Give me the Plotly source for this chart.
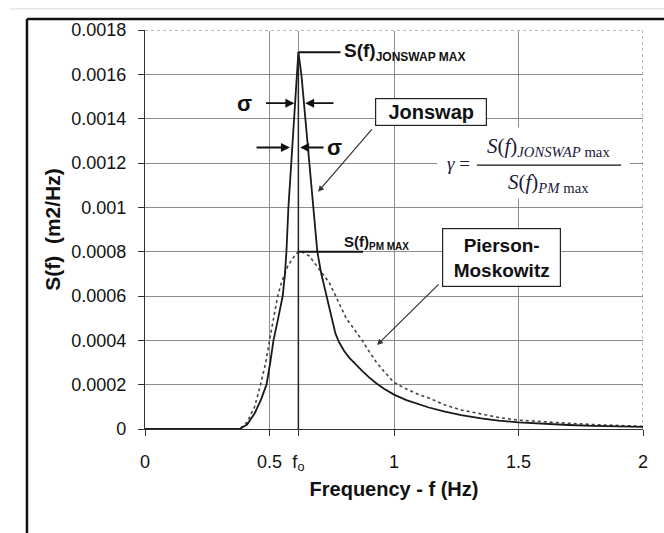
import plotly.graph_objects as go

# ---- data ----
freq_jonswap = [0.0, 0.38, 0.41, 0.44, 0.465, 0.488, 0.503, 0.516, 0.535, 0.553, 0.562, 0.568, 0.576,
                0.588, 0.600, 0.612, 0.616, 0.628, 0.644, 0.660, 0.674, 0.692, 0.708, 0.728, 0.748,
                0.765, 0.78, 0.80, 0.82, 0.85, 0.872, 0.90, 0.93, 0.96, 1.0, 1.05, 1.10, 1.14, 1.20,
                1.27, 1.35, 1.42, 1.5, 1.6, 1.7, 1.8, 1.9, 2.0]
s_jonswap = [0.0, 0.0, 0.00002, 0.00007, 0.00013, 0.0002, 0.0003, 0.0004, 0.0005, 0.0006, 0.0007, 0.0008, 0.001,
             0.0012, 0.0014, 0.0016, 0.0017, 0.0016, 0.0014, 0.0012, 0.001, 0.0008, 0.0007, 0.0006, 0.0005,
             0.00043, 0.00039, 0.000352, 0.000322, 0.000285, 0.000262, 0.000233, 0.000205, 0.000182, 0.000155,
             0.00013, 0.00011, 0.000097, 0.00008, 0.000063, 0.000048, 0.000038, 0.00003, 0.000023, 0.000018,
             0.000014, 0.000012, 0.00001]

freq_pm = [0.0, 0.38, 0.41, 0.44, 0.464, 0.485, 0.50, 0.518, 0.533, 0.548, 0.56, 0.575, 0.588, 0.60, 0.616,
           0.63, 0.645, 0.66, 0.68, 0.70, 0.72, 0.74, 0.77, 0.808, 0.84, 0.872, 0.90, 0.93, 0.96, 1.0, 1.05,
           1.10, 1.14, 1.20, 1.27, 1.35, 1.42, 1.5, 1.6, 1.7, 1.8, 1.9, 2.0]
s_pm = [0.0, 0.0, 0.00003, 0.0001, 0.0002, 0.0003, 0.0004, 0.0005, 0.0006, 0.00066, 0.00070, 0.00074, 0.00076,
        0.00078, 0.0008, 0.0008, 0.00079, 0.00078, 0.00075, 0.00072, 0.00069, 0.00066, 0.00059, 0.0005,
        0.00045, 0.0004, 0.00035, 0.0003, 0.00026, 0.00021, 0.00018, 0.000155, 0.00014, 0.00011, 0.000086,
        0.000068, 0.000052, 0.00004, 0.000032, 0.000026, 0.00002, 0.000016, 0.000012]

f_peak = 0.616
jonswap_max = 0.0017
pm_max = 0.0008

x_tickvals = [0, 0.5, f_peak, 1, 1.5, 2]
x_ticktext = ["0", "0.5", "f<sub>o</sub>", "1", "1.5", "2"]
y_tickvals = [0, 0.0002, 0.0004, 0.0006, 0.0008, 0.001, 0.0012, 0.0014, 0.0016, 0.0018]
y_ticktext = ["0", "0.0002", "0.0004", "0.0006", "0.0008", "0.001", "0.0012", "0.0014", "0.0016", "0.0018"]

FONT = "Liberation Sans, Arial, sans-serif"
SERIF = "Liberation Serif, Times New Roman, serif"
GRID = "#8c8c8c"

fig = go.Figure()
fig.add_trace(go.Scatter(x=freq_pm, y=s_pm, mode="lines", name="Pierson-Moskowitz",
                         line=dict(color="#444", width=1.6, dash="dot"), hoverinfo="skip"))
fig.add_trace(go.Scatter(x=freq_jonswap, y=s_jonswap, mode="lines", name="Jonswap",
                         line=dict(color="#1a1a1a", width=1.8), hoverinfo="skip"))

shapes = []
shapes.append(dict(type="line", xref="x", yref="y", x0=0, x1=2, y0=0.0018, y1=0.0018,
                   line=dict(color="white", width=2), layer="between"))
shapes.append(dict(type="line", xref="x", yref="y", x0=0, x1=2, y0=0.0018, y1=0.0018,
                   line=dict(color="#777", width=1, dash="dot"), layer="between"))
shapes.append(dict(type="line", xref="x", yref="y", x0=2, x1=2, y0=0, y1=0.0018,
                   line=dict(color="#777", width=1, dash="dot"), layer="between"))
shapes.append(dict(type="rect", xref="x", yref="y", x0=1.173, x1=1.948, y0=0.00104, y1=0.00136,
                   fillcolor="white", line=dict(width=0), layer="between"))
shapes.append(dict(type="line", xref="x", yref="y", x0=f_peak, x1=f_peak, y0=0, y1=jonswap_max,
                   line=dict(color="#222", width=1.5), layer="above"))
shapes.append(dict(type="line", xref="x", yref="y", x0=f_peak, x1=0.785, y0=jonswap_max, y1=jonswap_max,
                   line=dict(color="#111", width=2), layer="above"))
shapes.append(dict(type="line", xref="x", yref="y", x0=f_peak, x1=0.876, y0=pm_max, y1=pm_max,
                   line=dict(color="#111", width=2), layer="above"))
shapes.append(dict(type="line", xref="x", yref="y", x0=1.333, x1=1.912, y0=0.00119, y1=0.00119,
                   line=dict(color="#111", width=1.3), layer="above"))
shapes.append(dict(type="line", xref="paper", yref="paper", x0=-0.272, x1=1.05, y0=1.053, y1=1.053,
                   line=dict(color="#dddddd", width=1)))
shapes.append(dict(type="line", xref="paper", yref="paper", x0=-0.237, x1=1.05, y0=1.0276, y1=1.0276,
                   line=dict(color="#111", width=2.5)))
shapes.append(dict(type="line", xref="paper", yref="paper", x0=-0.237, x1=-0.237, y0=1.0276, y1=-0.27,
                   line=dict(color="#111", width=2.5)))

ann = []
ann.append(dict(x=0.79, y=jonswap_max, xref="x", yref="y", xanchor="left", yanchor="middle", showarrow=False,
                text="<b>S(f)<sub><span style='font-size:12px'>JONSWAP MAX</span></sub></b>",
                font=dict(family=FONT, size=19, color="#111")))
ann.append(dict(x=0.79, y=0.00084, xref="x", yref="y", xanchor="left", yanchor="middle", showarrow=False,
                text="<b>S(f)<sub><span style='font-size:10px'>PM MAX</span></sub></b>",
                font=dict(family=FONT, size=15, color="#111")))
ann.append(dict(x=0.40, y=0.00147, xref="x", yref="y", showarrow=False, text="<b>σ</b>",
                font=dict(family=FONT, size=22, color="#111")))
ann.append(dict(x=0.600, y=0.00147, ax=0.48, ay=0.00147, xref="x", yref="y", axref="x", ayref="y",
                text="", showarrow=True, arrowhead=2, arrowsize=1, arrowwidth=1.8, arrowcolor="#111"))
ann.append(dict(x=0.643, y=0.00147, ax=0.763, ay=0.00147, xref="x", yref="y", axref="x", ayref="y",
                text="", showarrow=True, arrowhead=2, arrowsize=1, arrowwidth=1.8, arrowcolor="#111"))
ann.append(dict(x=0.582, y=0.00127, ax=0.442, ay=0.00127, xref="x", yref="y", axref="x", ayref="y",
                text="", showarrow=True, arrowhead=2, arrowsize=1, arrowwidth=1.8, arrowcolor="#111"))
ann.append(dict(x=0.623, y=0.00127, ax=0.723, ay=0.00127, xref="x", yref="y", axref="x", ayref="y",
                text="", showarrow=True, arrowhead=2, arrowsize=1, arrowwidth=1.8, arrowcolor="#111"))
ann.append(dict(x=0.76, y=0.00127, xref="x", yref="y", showarrow=False, text="<b>σ</b>",
                font=dict(family=FONT, size=22, color="#111")))
ann.append(dict(x=1.149, y=0.00143, xref="x", yref="y", showarrow=False, text="<b>Jonswap</b>",
                font=dict(family=FONT, size=20, color="#111"), bgcolor="white", bordercolor="#222",
                borderwidth=1.2, width=108, height=24))
ann.append(dict(x=0.695, y=0.00107, ax=0.916, ay=0.001358, xref="x", yref="y", axref="x", ayref="y",
                text="", showarrow=True, arrowhead=2, arrowsize=1, arrowwidth=1.2, arrowcolor="#333"))
ann.append(dict(x=1.43, y=0.000774, xref="x", yref="y", showarrow=False, text="<b>Pierson-<br>Moskowitz</b>",
                font=dict(family=FONT, size=19, color="#111"), bgcolor="white", bordercolor="#222",
                borderwidth=1.2, width=115, height=55))
ann.append(dict(x=0.932, y=0.000379, ax=1.185, ay=0.000659, xref="x", yref="y", axref="x", ayref="y",
                text="", showarrow=True, arrowhead=2, arrowsize=1, arrowwidth=1.2, arrowcolor="#333"))
ann.append(dict(x=1.26, y=0.0012, xref="x", yref="y", showarrow=False, text="<i>γ</i> =",
                font=dict(family=SERIF, size=19, color="#1a1a3a")))
ann.append(dict(x=1.62, y=0.00127, xref="x", yref="y", showarrow=False,
                text="<i>S</i>(<i>f</i>)<sub><i>JONSWAP</i> max</sub>",
                font=dict(family=SERIF, size=21, color="#1a1a3a")))
ann.append(dict(x=1.62, y=0.00111, xref="x", yref="y", showarrow=False,
                text="<i>S</i>(<i>f</i>)<sub><i>PM</i> max</sub>",
                font=dict(family=SERIF, size=21, color="#1a1a3a")))

fig.update_layout(
    width=664, height=533,
    margin=dict(l=145, r=21, t=30, b=104),
    paper_bgcolor="white", plot_bgcolor="white",
    showlegend=False,
    shapes=shapes, annotations=ann,
    font=dict(family=FONT, color="#111"),
    xaxis=dict(range=[0, 2], tickvals=x_tickvals, ticktext=x_ticktext, showgrid=True, gridcolor=GRID,
               gridwidth=1, zeroline=False, showline=True, linecolor="#333", linewidth=1.2,
               ticks="outside", ticklen=6, tickcolor="#333", ticklabelstandoff=10,
               tickfont=dict(family=FONT, size=18, color="#111"),
               title=dict(text="<b>Frequency - f (Hz)</b>", font=dict(family=FONT, size=20, color="#111"),
                          standoff=8)),
    yaxis=dict(range=[0, 0.0018], tickvals=y_tickvals, ticktext=y_ticktext, showgrid=True, gridcolor=GRID,
               gridwidth=1, zeroline=False, showline=True, linecolor="#333", linewidth=1.2,
               ticks="outside", ticklen=6, tickcolor="#333", ticklabelstandoff=8,
               tickfont=dict(family=FONT, size=18, color="#111"),
               title=dict(text="<b>S(f)  (m2/Hz)</b>", font=dict(family=FONT, size=21, color="#111"),
                          standoff=4)),
)

fig.write_html("out.html")
